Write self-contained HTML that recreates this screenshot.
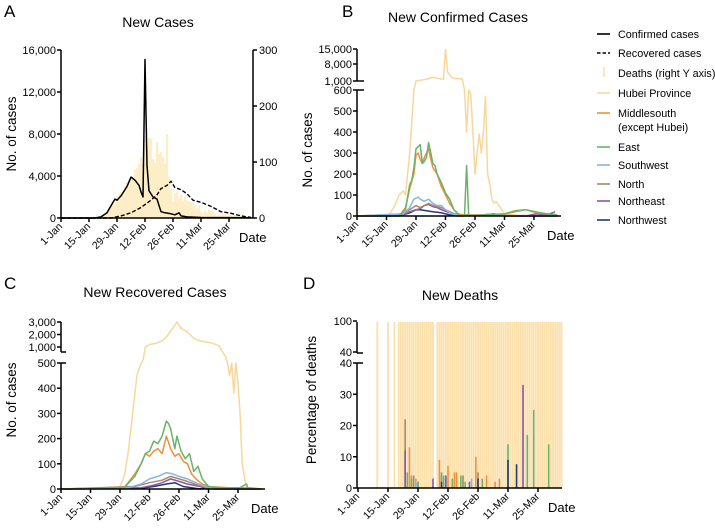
<!DOCTYPE html>
<html><head><meta charset="utf-8"><style>
body{margin:0;background:#fff;}
svg{display:block;font-family:"Liberation Sans",Arial,sans-serif;}
</style></head><body>
<svg id="fig" width="715" height="530" viewBox="0 0 715 530" xmlns="http://www.w3.org/2000/svg"></svg>
<script>
// ---------- data ----------
const dateTicks = ['1-Jan','15-Jan','29-Jan','12-Feb','26-Feb','11-Mar','25-Mar'];
const tickDays = [0,14,28,42,56,70,84];
// Panel A
const aConfirmed = [[0,0],[17,0],[20,100],[23,500],[26,1500],[27,1800],[28,1700],[30,2100],[33,3000],[35,3900],[37,3600],[39,3100],[40,2500],[41,2000],[42,15100],[43,5000],[44,2600],[46,2000],[48,1800],[50,600],[52,500],[55,400],[57,300],[59,500],[60,200],[63,100],[70,50],[95,30]];
const aRecovered = [[0,0],[25,0],[30,200],[35,500],[40,1000],[45,1700],[48,2200],[50,2800],[53,3100],[55,3500],[57,2900],[60,2700],[63,2300],[66,1700],[70,1500],[75,1100],[80,600],[85,450],[90,200],[95,50]];
const aDeaths = [0,0,0,0,0,0,0,0,0,0,0,0,0,0,0,0,0,1,1,2,3,5,8,10,15,20,25,26,38,43,46,45,57,64,65,73,73,86,89,97,108,97,146,121,143,142,105,98,136,114,118,109,97,150,71,52,29,44,47,35,42,31,38,31,30,28,27,22,17,22,11,7,13,10,14,13,11,8,3,7,6,9,7,4,6,5,3,5,4,1,4,6,3,2,3,2];
// Panel B (new confirmed by region)
const bHubei = [[0,0],[15,0],[18,50],[20,100],[22,120],[23,100],[25,300],[26,450],[27,600],[28,1000],[30,1300],[33,1800],[36,2500],[39,2000],[41,1700],[42,14800],[43,4800],[45,2400],[47,1900],[49,1900],[50,1800],[51,600],[52,400],[53,600],[54,580],[55,400],[56,200],[57,300],[58,390],[59,300],[60,400],[61,570],[62,200],[63,150],[64,80],[65,60],[66,70],[68,40],[70,10],[75,3],[95,0]];
const bMiddle = [[0,0],[20,0],[23,40],[25,130],[27,200],[28,290],[29,300],[30,270],[31,250],[32,280],[34,320],[35,270],[36,230],[38,200],[40,140],[42,100],[44,60],[46,30],[48,10],[52,3],[70,10],[80,30],[85,15],[95,5]];
const bEast = [[0,0],[20,0],[23,30],[25,150],[26,170],[27,230],[28,320],[29,330],[30,340],[31,250],[32,260],[33,280],[34,350],[35,300],[36,250],[37,240],[38,200],[40,160],[42,110],[44,80],[46,30],[48,10],[49,0],[51,0],[52,240],[53,0],[60,5],[70,10],[75,25],[80,30],[85,20],[90,10],[95,5]];
const bSouthwest = [[0,0],[22,10],[25,40],[27,80],[29,90],[30,80],[32,70],[34,80],[36,60],[38,50],[40,50],[42,30],[45,10],[48,3],[95,0]];
const bNorth = [[0,0],[22,10],[25,30],[28,50],[30,40],[32,50],[34,60],[36,50],[38,45],[40,40],[42,30],[45,15],[48,5],[95,0]];
const bNortheast = [[0,0],[22,5],[25,20],[28,30],[30,35],[32,50],[34,55],[36,45],[38,40],[40,30],[44,15],[48,5],[80,0],[85,10],[90,5],[94,20]];
const bNorthwest = [[0,0],[22,5],[25,15],[28,30],[30,30],[33,25],[36,20],[40,15],[44,5],[48,0],[60,5],[65,10],[70,0],[95,0]];
// Panel C (new recovered by region)
const cHubei = [[0,0],[25,0],[28,10],[30,50],[32,150],[34,300],[36,450],[38,500],[39,600],[40,1000],[42,1200],[45,1300],[48,1500],[50,1800],[53,2500],[55,3000],[57,2500],[60,2200],[63,1700],[66,1500],[69,1400],[72,1300],[75,1100],[78,700],[79,500],[80,450],[81,500],[82,380],[83,500],[84,420],[85,300],[86,100],[88,5],[95,0]];
const cEast = [[0,0],[30,5],[35,50],[38,100],[40,140],[42,150],[44,190],[46,180],[48,210],[50,270],[51,260],[52,240],[54,160],[55,210],[57,150],[59,120],[61,140],[63,70],[65,90],[67,40],[70,10],[75,5],[85,5],[88,20],[89,0],[95,0]];
const cMiddle = [[0,0],[30,5],[35,60],[38,100],[40,140],[42,130],[44,150],[46,160],[48,140],[50,210],[52,160],[54,130],[56,140],[58,110],[60,100],[62,60],[64,40],[67,20],[70,10],[80,5],[90,5],[95,0]];
const cSouthwest = [[0,0],[32,5],[38,20],[42,40],[46,50],[50,65],[53,60],[56,50],[60,40],[64,25],[68,10],[72,3],[95,0]];
const cNorth = [[0,0],[35,10],[42,25],[48,35],[52,50],[56,40],[60,30],[65,15],[70,5],[95,0]];
const cNortheast = [[0,0],[38,5],[44,15],[48,25],[52,40],[56,30],[60,20],[66,10],[70,3],[95,0]];
const cNorthwest = [[0,0],[38,3],[44,10],[50,20],[54,25],[58,10],[62,5],[66,0],[70,10],[72,0],[95,0]];
// Panel D (percentage of deaths)
const dHubeiDays = [9,14,17].concat(Array.from({length:17},(_, i)=>19+i)).concat(Array.from({length:59},(_, i)=>37+i));
const dHubeiPct = 100;
const dEast = [[23,5],[25,3],[28,2],[39,5],[40,4],[44,3],[48,4],[50,2],[58,2],[70,14],[79,17],[82,25],[89,14]];
const dMiddle = [[24,13],[25,4],[27,3],[38,9],[42,7],[45,5],[46,5],[55,10],[60,4],[64,2],[66,3]];
const dNorth = [[22,22],[26,4],[28,2],[39,4],[41,3],[49,4],[56,5],[58,3]];
const dNortheast = [[22,12],[35,3],[41,4],[52,2],[77,33]];
const dSouthwest = [[27,2],[44,3],[53,3]];
const dNorthwest = [[39,2],[56,3],[70,9],[74,7.6]];

// ---------- colours ----------
const C = {hubei:'#f9d79a', middle:'#ef8f3f', east:'#68b468', sw:'#84b6e8', north:'#a88768', ne:'#8c56a8', nw:'#1f3c70'};

const svg = document.getElementById('fig');
const NS = 'http://www.w3.org/2000/svg';
function el(tag, attrs, parent){const e=document.createElementNS(NS,tag);for(const k in attrs)e.setAttribute(k,attrs[k]);(parent||svg).appendChild(e);return e;}
function txt(s, attrs, parent){const t=el('text',attrs,parent);t.textContent=s;return t;}

function panel(name){const g=el('g',{});return g;}
function line(g,pts,xf,yf,color,w,dash,name){
  const d=pts.map((p,i)=>(i?'L':'M')+xf(p[0]).toFixed(1)+','+yf(p[1]).toFixed(1)).join('');
  const p=el('path',{d:d,fill:'none',stroke:color,'stroke-width':w,'stroke-linejoin':'round'},g);
  if(dash)p.setAttribute('stroke-dasharray',dash);
  
  
}
function xAxis(g,xf,y,x0,x1,prefix){
  el('line',{x1:x0,y1:y,x2:x1,y2:y,stroke:'#000','stroke-width':1.5},g);
  tickDays.forEach((d,i)=>{
    const x=xf(d);
    el('line',{x1:x,y1:y,x2:x,y2:y+4,stroke:'#000','stroke-width':1.5},g);
    const t=txt(dateTicks[i],{x:x+2,y:y+9,'font-size':10.5,'text-anchor':'end',transform:`rotate(-45 ${x+2} ${y+9})`},g);
    
    
  });
  const dl=txt('Date',{x:x1-14,y:y+24,'font-size':13},g);
  
  
}
function yTicks(g,x,vals,labels,yf,prefix,side){
  vals.forEach((v,i)=>{
    const y=yf(v);
    const dx=side==='r'?4:-4;
    el('line',{x1:x,y1:y,x2:x+dx,y2:y,stroke:'#000','stroke-width':1.5},g);
    const t=txt(labels[i],{x:x+(side==='r'?6:-5),y:y+4,'font-size':11,'text-anchor':side==='r'?'start':'end'},g);
    
    
  });
}
function yTitle(g,s,x,y,prefix){
  const t=txt(s,{x:x,y:y,'font-size':13.5,'text-anchor':'middle',transform:`rotate(-90 ${x} ${y})`},g);
  
  
}
function title(g,s,x,y,prefix){const t=txt(s,{x:x,y:y,'font-size':14,'text-anchor':'middle'},g);}
function letter(s,x,y){const t=txt(s,{x:x,y:y,'font-size':17});}

// ---------- Panel A ----------
(function(){
  const g=panel('panel-a-new-cases');
  const xf=d=>61+d*2, yf=v=>218-v/16000*168, yr=v=>218-v/300*168;
  aDeaths.forEach((v,d)=>{ if(v>0){const r=el('rect',{x:xf(d)-1,y:yr(v),width:2.2,height:218-yr(v),fill:'#fdeec8'},g);
    
    }});
  line(g,aRecovered,xf,yf,'#000',1.4,'4,2','recovered-line');
  line(g,aConfirmed,xf,yf,'#000',1.5,null,'confirmed-line');
  el('line',{x1:61,y1:50,x2:61,y2:218,stroke:'#000','stroke-width':1.5},g);
  el('line',{x1:253,y1:50,x2:253,y2:218,stroke:'#000','stroke-width':1.5},g);
  yTicks(g,61,[0,4000,8000,12000,16000],['0','4,000','8,000','12,000','16,000'],yf,'a','l');
  yTicks(g,253,[0,100,200,300],['0','100','200','300'],yr,'a-right','r');
  xAxis(g,xf,218,61,253,'a');
  yTitle(g,'No. of cases',16,134,'a');
  title(g,'New Cases',158,27,'a');
})();

// ---------- Panel B ----------
(function(){
  const g=panel('panel-b-new-confirmed');
  const xf=d=>357+d*29.5/14;
  const yf=v=>{ if(v<=600) return 216-v*126/600; if(v<1000) return 90-(v-600)/400*9;
    if(v<=8000) return 81-(v-1000)/7000*17; return 64-(v-8000)/7000*15; };
  [[bHubei,C.hubei,'hubei'],[bNorthwest,C.nw,'northwest'],[bNortheast,C.ne,'northeast'],[bNorth,C.north,'north'],[bSouthwest,C.sw,'southwest'],[bMiddle,C.middle,'middlesouth'],[bEast,C.east,'east']].forEach(s=>line(g,s[0],xf,yf,s[1],1.5,null,'b-'+s[2]+'-line'));
  el('line',{x1:357,y1:90,x2:357,y2:216,stroke:'#000','stroke-width':1.5},g);
  el('line',{x1:357,y1:49,x2:357,y2:81,stroke:'#000','stroke-width':1.5},g);
  el('line',{x1:357,y1:81,x2:364,y2:81,stroke:'#000','stroke-width':1.5},g);
  el('line',{x1:357,y1:90,x2:364,y2:90,stroke:'#000','stroke-width':1.5},g);
  yTicks(g,357,[0,100,200,300,400,500,600],['0','100','200','300','400','500','600'],yf,'b','l');
  yTicks(g,357,[1000,8000,15000],['1,000','8,000','15,000'],yf,'b-upper','l');
  xAxis(g,xf,216,357,561,'b');
  yTitle(g,'No. of cases',312,150,'b');
  title(g,'New Confirmed Cases',458,22,'b');
})();

// ---------- Panel C ----------
(function(){
  const g=panel('panel-c-new-recovered');
  const xf=d=>61+d*29.5/14;
  const yf=v=>{ if(v<=500) return 489-v*126/500; if(v<1000) return 363-(v-500)/500*16; return 347-(v-1000)*12.5/1000; };
  [[cHubei,C.hubei,'hubei'],[cNorthwest,C.nw,'northwest'],[cNortheast,C.ne,'northeast'],[cNorth,C.north,'north'],[cSouthwest,C.sw,'southwest'],[cMiddle,C.middle,'middlesouth'],[cEast,C.east,'east']].forEach(s=>line(g,s[0],xf,yf,s[1],1.5,null,'c-'+s[2]+'-line'));
  el('line',{x1:61,y1:363,x2:61,y2:489,stroke:'#000','stroke-width':1.5},g);
  el('line',{x1:61,y1:322,x2:61,y2:352,stroke:'#000','stroke-width':1.5},g);
  el('line',{x1:61,y1:352,x2:66,y2:352,stroke:'#000','stroke-width':1.5},g);
  el('line',{x1:61,y1:363,x2:66,y2:363,stroke:'#000','stroke-width':1.5},g);
  yTicks(g,61,[0,100,200,300,400,500],['0','100','200','300','400','500'],yf,'c','l');
  yTicks(g,61,[1000,2000,3000],['1,000','2,000','3,000'],yf,'c-upper','l');
  xAxis(g,xf,489,61,265,'c');
  yTitle(g,'No. of cases',16,400,'c');
  title(g,'New Recovered Cases',155,297,'c');
})();

// ---------- Panel D ----------
(function(){
  const g=panel('panel-d-new-deaths');
  const xf=d=>358+d*30/14;
  const yf=v=>v<=40?488-v*125/40:353-(v-40)*31/60;
  dHubeiDays.forEach(d=>{
    const r1=el('rect',{x:xf(d)-0.95,y:yf(dHubeiPct),width:1.9,height:yf(40)-yf(dHubeiPct),fill:'#fbe1ac'},g);
    
    
    const r2=el('rect',{x:xf(d)-0.95,y:yf(40),width:1.9,height:488-yf(40),fill:'#fbe1ac'},g);
    
    
  });
  [[dMiddle,C.middle,'middlesouth'],[dNorth,C.north,'north'],[dSouthwest,C.sw,'southwest'],[dEast,C.east,'east'],[dNortheast,C.ne,'northeast'],[dNorthwest,C.nw,'northwest']].forEach(s=>{
    s[0].forEach(p=>{const r=el('rect',{x:xf(p[0])-0.8,y:yf(p[1]),width:1.6,height:488-yf(p[1]),fill:s[1]},g);
      
      });
  });
  el('line',{x1:357,y1:363,x2:357,y2:488,stroke:'#000','stroke-width':1.5},g);
  el('line',{x1:357,y1:322,x2:357,y2:353,stroke:'#000','stroke-width':1.5},g);
  el('line',{x1:357,y1:353,x2:363,y2:353,stroke:'#000','stroke-width':1.5},g);
  el('line',{x1:357,y1:363,x2:363,y2:363,stroke:'#000','stroke-width':1.5},g);
  yTicks(g,357,[0,10,20,30,40],['0','10','20','30','40'],yf,'d','l');
  yTicks(g,357,[40.01,100],['40','100'],v=>v>40?yf(v)-1:yf(v),'d-upper','l');
  xAxis(g,xf,488,357,562,'d');
  yTitle(g,'Percentage of deaths',316,400,'d');
  title(g,'New Deaths',460,300,'d');
})();

// ---------- Legend ----------
(function(){
  const g=panel('legend');
  const items=[['Confirmed cases','#000','solid',34],['Recovered cases','#000','dash',53],['Deaths (right Y axis)','#fbe9b7','bar',73],['Hubei Province',C.hubei,'solid',93],['Middlesouth',C.middle,'solid',113],['East',C.east,'solid',147],['Southwest',C.sw,'solid',165],['North',C.north,'solid',184],['Northeast',C.ne,'solid',201],['Northwest',C.nw,'solid',220]];
  items.forEach(it=>{
    const y=it[3];
    const e=el('g',{},g);
    
    
    if(it[2]==='bar') el('rect',{x:603,y:y-6,width:2,height:10,fill:it[1]},e);
    else { const l=el('line',{x1:597,y1:y,x2:610,y2:y,stroke:it[1],'stroke-width':1.6},e); if(it[2]==='dash')l.setAttribute('stroke-dasharray','3.5,2'); }
    txt(it[0],{x:618,y:y+4,'font-size':10.8},e);
  });
  const t=txt('(except Hubei)',{x:618,y:131,'font-size':10.8},g);
  
  
})();

letter('A',4,17); letter('B',342,17); letter('C',4,289); letter('D',303,289);
</script>
</body></html>
